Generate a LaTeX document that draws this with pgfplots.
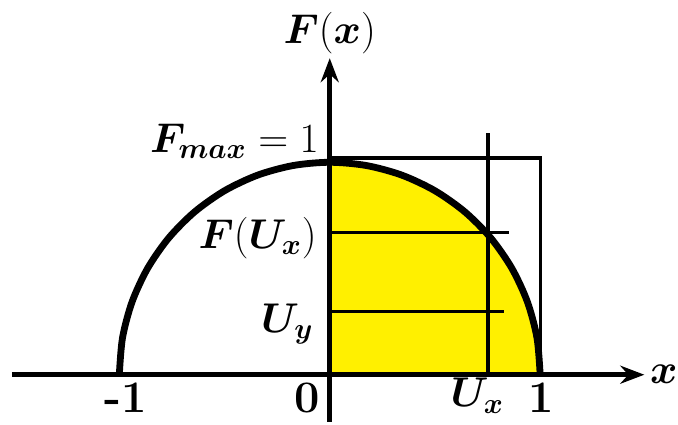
\documentclass[border=0pt]{standalone}
\usepackage{pgfplots}
\pgfplotsset{compat=1.18}
\usepackage{amsmath}
\usepackage{bm}
\usetikzlibrary{arrows.meta}
\definecolor{fillyellow}{RGB}{255,240,0}
\begin{document}
\begin{tikzpicture}
\fontsize{22.5}{27}\selectfont
\begin{axis}[
  x=105pt, y=106pt,
  xmin=-1.51, xmax=1.495,
  ymin=-0.222, ymax=1.49,
  axis lines=middle,
  axis line style={line width=2.3pt,-{Stealth[length=12pt,width=9pt,inset=4pt]}},
  ticks=none,
  axis on top=true,
  clip=false,
]
% quarter area under the curve
\addplot[fill=fillyellow, draw=none] coordinates {
  (0,0) (0,1) (0.1736,0.9848) (0.3420,0.9397) (0.5,0.8660) (0.6428,0.7660)
  (0.7660,0.6428) (0.8660,0.5) (0.9397,0.3420) (0.9848,0.1736) (1,0)
} -- cycle;
% box, U_x and the two horizontal lines
\addplot[line width=1.6pt] coordinates {(0,1.02) (1.0,1.02) (1.0,0)};
\addplot[line width=1.6pt] coordinates {(0.752,0) (0.752,1.14)};
\addplot[line width=1.6pt] coordinates {(0,0.67) (0.853,0.67)};
\addplot[line width=1.6pt] coordinates {(0,0.297) (0.83,0.297)};
% semicircle
\addplot[line width=3.4pt, smooth] coordinates {
  (1,0) (0.9848,0.1736) (0.9397,0.3420) (0.8660,0.5) (0.7660,0.6428)
  (0.6428,0.7660) (0.5,0.8660) (0.3420,0.9397) (0.1736,0.9848) (0,1)
  (-0.1736,0.9848) (-0.3420,0.9397) (-0.5,0.8660) (-0.6428,0.7660)
  (-0.7660,0.6428) (-0.8660,0.5) (-0.9397,0.3420) (-0.9848,0.1736) (-1,0)
};
% labels
\node[anchor=south, inner sep=2pt] at (axis cs:0,1.49) {$\bm{F}(\bm{x})$};
\node[anchor=base east, inner sep=0pt] at (axis cs:-0.05,1.045) {$\bm{F_{max}}=1$};
\node[anchor=base east, inner sep=0pt] at (axis cs:-0.06,0.594) {$\bm{F}(\bm{U_x})$};
\node[anchor=base east, inner sep=0pt] at (axis cs:-0.075,0.198) {$\bm{U_y}$};
\node[anchor=base, inner sep=0pt] at (axis cs:-0.969,-0.18) {\textbf{-1}};
\node[anchor=base, inner sep=0pt] at (axis cs:-0.107,-0.18) {\textbf{0}};
\node[anchor=base east, inner sep=0pt] at (axis cs:0.83,-0.151) {$\bm{U_x}$};
\node[anchor=base, inner sep=0pt] at (axis cs:1.005,-0.18) {\textbf{1}};
\node[anchor=base east, inner sep=0pt] at (axis cs:1.655,-0.04) {$\bm{x}$};
\path (axis cs:-1.567,-0.222) (axis cs:1.655,1.764);
\end{axis}
\end{tikzpicture}
\end{document}
